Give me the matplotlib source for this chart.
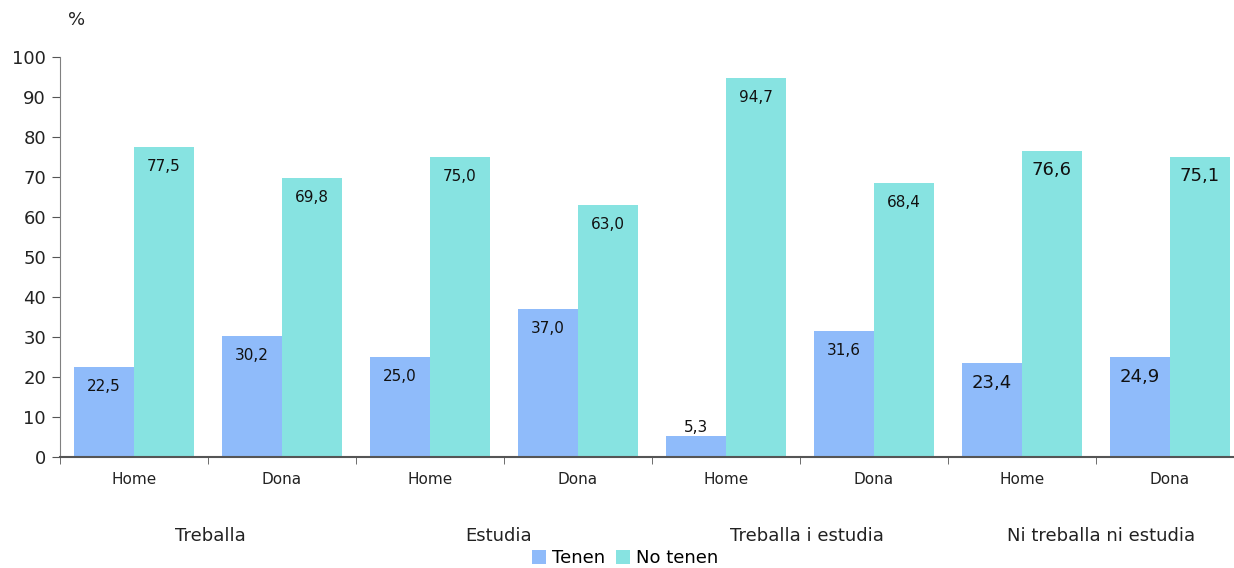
import matplotlib.pyplot as plt
import matplotlib.transforms as mtransforms
import numpy as np

# %%
sexes = ["Home", "Dona", "Home", "Dona", "Home", "Dona", "Home", "Dona"]
groups = ["Treballa", "Estudia", "Treballa i estudia", "Ni treballa ni estudia"]
tenen = [22.5, 30.2, 25.0, 37.0, 5.3, 31.6, 23.4, 24.9]
no_tenen = [77.5, 69.8, 75.0, 63.0, 94.7, 68.4, 76.6, 75.1]

blue = "#8FBBFA"
cyan = "#87E3E1"

# %%
fig = plt.figure(figsize=(12.34, 5.68), dpi=100)
ax = fig.add_axes([60 / 1234, 111 / 568, 1174 / 1234, 400 / 568])

x = np.arange(len(sexes))
w = 0.405
b1 = ax.bar(x - w / 2, tenen, w, color=blue, label="Tenen")
b2 = ax.bar(x + w / 2, no_tenen, w, color=cyan, label="No tenen")


def fmt(v):
    return f"{v:.1f}".replace(".", ",")


for i, (t, n) in enumerate(zip(tenen, no_tenen)):
    size = 13 if i >= 6 else 11
    off_t = 6 if t < 10 else -14
    ax.annotate(fmt(t), (x[i] - w / 2, t), xytext=(0, off_t), textcoords="offset points",
                ha="center", va="center", fontsize=size, color="#111111")
    ax.annotate(fmt(n), (x[i] + w / 2, n), xytext=(0, -14), textcoords="offset points",
                ha="center", va="center", fontsize=size, color="#111111")

ax.set_yticks(range(0, 101, 10))
ax.set_xticks(x)
ax.set_xticklabels(sexes, fontsize=11, color="#222222")
ax.set_xticks(np.arange(-0.5, len(sexes), 1), minor=True)
# limits after the ticks, since set_xticks widens the view
ax.set_ylim(0, 100)
ax.set_xlim(-0.5, -0.5 + 1174 / 148)
ax.tick_params(axis="x", which="major", length=0, pad=11)
ax.tick_params(axis="x", which="minor", length=5, color="#555555", direction="out")
ax.tick_params(axis="y", length=6, color="#555555", labelsize=13, pad=4, labelcolor="#222222")

for s in ["top", "right"]:
    ax.spines[s].set_visible(False)
ax.spines["left"].set_color("#808080")
ax.spines["bottom"].set_color("#555555")
ax.spines["bottom"].set_linewidth(1.5)

# group labels, nudged a little like the original layout
nudge = [2, -4, 5, 4]
trans = mtransforms.blended_transform_factory(ax.transData, fig.transFigure)
for j, g in enumerate(groups):
    t = ax.text(2 * j + 0.5, 1 - 536 / 568, g, transform=trans, ha="center", va="center",
                fontsize=13, color="#222222")
    t.set_transform(trans + mtransforms.ScaledTranslation(nudge[j] / 72, 0, fig.dpi_scale_trans))

fig.text(77 / 1234, 1 - 20 / 568, "%", ha="center", va="center", fontsize=13, color="#222222")

fig.legend(handles=[b1, b2], loc="center", bbox_to_anchor=(625 / 1234, 1 - 558 / 568),
           ncol=2, frameon=False, fontsize=13, handlelength=0.8, handleheight=0.8,
           handletextpad=0.3, columnspacing=0.6, borderaxespad=0)

plt.savefig("out.png", dpi=100)
